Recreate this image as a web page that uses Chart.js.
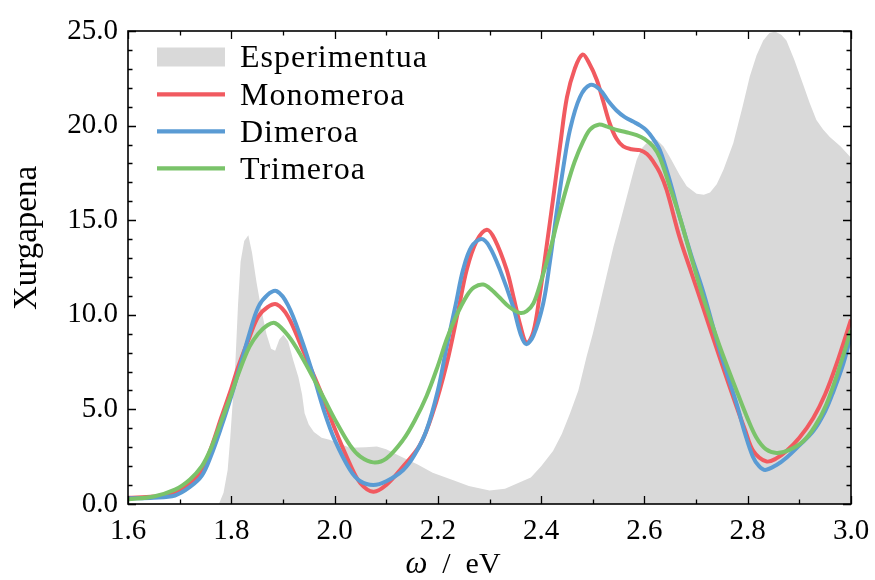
<!DOCTYPE html>
<html>
<head>
<meta charset="utf-8">
<script src="https://cdn.jsdelivr.net/npm/chart.js@4.4.1/dist/chart.umd.min.js"></script>
<style>
  html, body { margin: 0; padding: 0; background: #ffffff; }
  #wrap { width: 875px; height: 580px; position: relative; }
</style>
</head>
<body>
<div id="wrap"><canvas id="spectrum" width="875" height="580"></canvas></div>
<script>
// Photon energy grids (eV) and absorption values for each spectrum
const expOmega = [1.776, 1.785, 1.793, 1.798, 1.803, 1.808, 1.813, 1.818, 1.825, 1.833, 1.840, 1.849, 1.858, 1.868, 1.877, 1.885, 1.893, 1.901, 1.910, 1.920, 1.930, 1.937, 1.942, 1.950, 1.960, 1.975, 1.990, 2.030, 2.060, 2.082, 2.100, 2.127, 2.160, 2.190, 2.230, 2.260, 2.300, 2.330, 2.380, 2.400, 2.423, 2.440, 2.456, 2.472, 2.488, 2.500, 2.514, 2.527, 2.540, 2.553, 2.566, 2.578, 2.585, 2.595, 2.604, 2.614, 2.624, 2.637, 2.650, 2.668, 2.682, 2.701, 2.715, 2.727, 2.740, 2.753, 2.772, 2.790, 2.804, 2.817, 2.830, 2.842, 2.853, 2.865, 2.875, 2.890, 2.907, 2.920, 2.933, 2.946, 2.959, 2.980, 3.000];
const expAbs = [0.0, 0.6, 1.8, 3.5, 5.5, 7.5, 10.5, 12.8, 13.9, 14.2, 13.3, 11.7, 10.3, 9.0, 8.2, 8.1, 8.7, 8.95, 8.6, 7.6, 6.7, 5.8, 4.8, 4.2, 3.8, 3.5, 3.4, 2.97, 3.0, 3.04, 2.9, 2.52, 2.1, 1.65, 1.25, 0.95, 0.72, 0.8, 1.4, 2.0, 2.8, 3.7, 4.8, 6.0, 7.8, 9.0, 10.6, 12.1, 13.6, 14.9, 16.25, 17.5, 18.2, 18.8, 19.07, 19.2, 19.25, 18.9, 18.3, 17.4, 16.8, 16.4, 16.35, 16.46, 16.9, 17.66, 19.07, 21.0, 22.6, 23.7, 24.5, 24.9, 24.97, 24.8, 24.5, 23.5, 22.2, 21.2, 20.3, 19.8, 19.4, 18.9, 18.3];

const monoOmega = [1.600, 1.650, 1.690, 1.720, 1.743, 1.760, 1.781, 1.800, 1.814, 1.835, 1.852, 1.870, 1.888, 1.910, 1.936, 1.955, 1.975, 2.000, 2.030, 2.050, 2.075, 2.100, 2.130, 2.165, 2.190, 2.217, 2.240, 2.256, 2.275, 2.295, 2.310, 2.333, 2.346, 2.360, 2.372, 2.385, 2.397, 2.410, 2.424, 2.437, 2.450, 2.465, 2.480, 2.493, 2.508, 2.520, 2.533, 2.546, 2.559, 2.575, 2.591, 2.605, 2.617, 2.630, 2.643, 2.668, 2.690, 2.714, 2.745, 2.779, 2.795, 2.811, 2.836, 2.855, 2.875, 2.900, 2.927, 2.950, 2.972, 3.000];
const monoAbs = [0.33, 0.40, 0.60, 1.10, 1.80, 2.90, 4.60, 6.10, 7.30, 8.80, 9.90, 10.40, 10.55, 9.90, 8.30, 7.10, 5.80, 4.00, 2.10, 1.10, 0.65, 1.00, 1.90, 3.10, 4.80, 7.40, 10.30, 12.40, 13.90, 14.50, 14.00, 12.40, 11.00, 9.40, 8.50, 9.10, 11.00, 13.50, 16.30, 19.00, 21.50, 23.00, 23.75, 23.30, 22.40, 21.30, 20.10, 19.30, 18.90, 18.75, 18.70, 18.50, 18.10, 17.50, 16.60, 14.10, 12.30, 10.35, 7.80, 5.10, 3.90, 2.80, 2.25, 2.40, 2.80, 3.50, 4.55, 5.80, 7.40, 9.75];

const diOmega = [1.600, 1.650, 1.691, 1.720, 1.743, 1.760, 1.781, 1.800, 1.814, 1.835, 1.852, 1.870, 1.888, 1.910, 1.936, 1.960, 1.981, 2.000, 2.030, 2.050, 2.075, 2.100, 2.133, 2.155, 2.178, 2.200, 2.217, 2.235, 2.249, 2.265, 2.285, 2.300, 2.320, 2.346, 2.360, 2.371, 2.385, 2.404, 2.417, 2.430, 2.443, 2.456, 2.475, 2.495, 2.514, 2.530, 2.546, 2.562, 2.579, 2.592, 2.604, 2.617, 2.630, 2.650, 2.668, 2.690, 2.714, 2.745, 2.779, 2.795, 2.810, 2.822, 2.834, 2.855, 2.875, 2.900, 2.927, 2.950, 2.966, 2.985, 3.000];
const diAbs = [0.30, 0.33, 0.45, 0.90, 1.50, 2.50, 4.10, 5.70, 7.00, 9.00, 10.40, 11.05, 11.25, 10.50, 8.70, 6.70, 4.80, 3.40, 1.80, 1.20, 1.00, 1.20, 1.80, 2.60, 3.90, 6.00, 8.30, 10.60, 12.40, 13.60, 14.00, 13.60, 12.40, 10.40, 9.00, 8.45, 8.90, 10.60, 12.80, 15.40, 17.80, 19.80, 21.50, 22.15, 21.90, 21.30, 20.80, 20.45, 20.20, 20.00, 19.75, 19.30, 18.70, 17.00, 15.20, 13.20, 11.20, 8.20, 5.25, 3.70, 2.50, 2.00, 1.80, 2.05, 2.45, 3.10, 3.85, 4.90, 5.95, 7.40, 8.90];

const triOmega = [1.600, 1.650, 1.691, 1.720, 1.743, 1.760, 1.781, 1.800, 1.814, 1.835, 1.852, 1.870, 1.885, 1.910, 1.936, 1.960, 1.981, 2.000, 2.030, 2.050, 2.075, 2.100, 2.133, 2.155, 2.178, 2.200, 2.217, 2.235, 2.256, 2.270, 2.288, 2.305, 2.320, 2.339, 2.359, 2.372, 2.385, 2.400, 2.417, 2.433, 2.450, 2.465, 2.482, 2.495, 2.511, 2.528, 2.546, 2.565, 2.585, 2.600, 2.617, 2.630, 2.650, 2.668, 2.690, 2.714, 2.745, 2.779, 2.800, 2.817, 2.835, 2.856, 2.880, 2.907, 2.930, 2.952, 2.975, 3.000];
const triAbs = [0.25, 0.40, 0.76, 1.30, 2.00, 2.90, 4.40, 5.80, 6.90, 8.30, 9.00, 9.45, 9.56, 8.90, 7.80, 6.60, 5.50, 4.50, 3.10, 2.50, 2.20, 2.40, 3.40, 4.40, 5.70, 7.30, 8.70, 9.90, 11.00, 11.45, 11.60, 11.30, 10.90, 10.40, 10.10, 10.20, 10.60, 11.80, 13.40, 15.10, 16.80, 18.10, 19.20, 19.80, 20.05, 19.95, 19.77, 19.65, 19.50, 19.30, 18.90, 18.30, 16.70, 15.20, 13.10, 10.90, 8.40, 5.95, 4.50, 3.50, 2.90, 2.70, 2.85, 3.30, 4.10, 5.25, 7.00, 9.20];

const seriesLabels = ['Esperimentua', 'Monomeroa', 'Dimeroa', 'Trimeroa'];
const xTickValues = [1.6, 1.8, 2.0, 2.2, 2.4, 2.6, 2.8, 3.0];
const yTickValues = [0, 5, 10, 15, 20, 25];

const SERIF = '"Liberation Serif", "DejaVu Serif", serif';

function pairs(xs, ys) {
  return xs.map((x, i) => ({ x: x, y: ys[i] }));
}

// Inward tick marks on all four sides plus the surrounding frame
const frameTicks = {
  id: 'frameTicks',
  afterDraw(chart) {
    const { ctx, chartArea: a, scales: { x, y } } = chart;
    ctx.save();
    ctx.strokeStyle = '#000';
    ctx.lineWidth = 1.3;
    const majorLen = 8, minorLen = 4.5;
    const xMin = x.min, xMax = x.max;
    for (let k = 0; k <= Math.round((xMax - xMin) / 0.1); k++) {
      const v = xMin + k * 0.1;
      const px = Math.round(x.getPixelForValue(v)) + 0.5;
      const len = (k % 2 === 0) ? majorLen : minorLen;
      ctx.beginPath();
      ctx.moveTo(px, a.bottom); ctx.lineTo(px, a.bottom - len);
      ctx.moveTo(px, a.top); ctx.lineTo(px, a.top + len);
      ctx.stroke();
    }
    for (let v = y.min; v <= y.max + 1e-9; v += 1) {
      const py = Math.round(y.getPixelForValue(v)) + 0.5;
      const len = (Math.round(v) % 5 === 0) ? majorLen : minorLen;
      ctx.beginPath();
      ctx.moveTo(a.left, py); ctx.lineTo(a.left + len, py);
      ctx.moveTo(a.right, py); ctx.lineTo(a.right - len, py);
      ctx.stroke();
    }
    ctx.lineWidth = 1.6;
    ctx.strokeRect(a.left, a.top, a.right - a.left, a.bottom - a.top);
    ctx.restore();
  }
};

// Axis titles
const axisTitles = {
  id: 'axisTitles',
  afterDraw(chart) {
    const { ctx } = chart;
    ctx.save();
    ctx.fillStyle = '#000';
    ctx.translate(36, 238);
    ctx.rotate(-Math.PI / 2);
    ctx.font = '33px ' + SERIF;
    ctx.textAlign = 'center';
    ctx.textBaseline = 'alphabetic';
    ctx.fillText('Xurgapena', 0, 0);
    ctx.restore();

    ctx.save();
    ctx.fillStyle = '#000';
    ctx.textBaseline = 'alphabetic';
    const italic = 'italic 31px ' + SERIF;
    const upright = '30px ' + SERIF;
    ctx.font = italic;
    const wOmega = ctx.measureText('ω').width;
    ctx.font = upright;
    const rest = '  /  eV';
    const wRest = ctx.measureText(rest).width;
    const cx = 453, base = 573;
    const x0 = cx - (wOmega + wRest) / 2;
    ctx.font = italic;
    ctx.textAlign = 'left';
    ctx.fillText('ω', x0, base);
    ctx.font = upright;
    ctx.fillText(rest, x0 + wOmega, base);
    ctx.restore();
  }
};

// Legend in the upper-left corner of the plot
const cornerLegend = {
  id: 'cornerLegend',
  afterDraw(chart) {
    const { ctx } = chart;
    const ds = chart.data.datasets;
    const x0 = 157, handleW = 68, textX = 240;
    const rowY = [57, 94.3, 131.3, 168.3];
    ctx.save();
    ctx.font = '32px ' + SERIF;
    if ('letterSpacing' in ctx) ctx.letterSpacing = '1px';
    ctx.textBaseline = 'middle';
    ctx.textAlign = 'left';
    ds.forEach((d, r) => {
      const cy = rowY[r];
      if (d.fill) {
        ctx.fillStyle = d.backgroundColor;
        ctx.fillRect(x0, cy - 9.5, handleW, 19);
      } else {
        ctx.strokeStyle = d.borderColor;
        ctx.lineWidth = 4.2;
        ctx.beginPath();
        ctx.moveTo(x0, cy);
        ctx.lineTo(x0 + handleW, cy);
        ctx.stroke();
      }
      ctx.fillStyle = '#000';
      ctx.fillText(d.label, textX, cy + 2);
    });
    ctx.restore();
  }
};

const curveStyle = { fill: false, borderWidth: 4, pointRadius: 0, tension: 0.35 };

new Chart(document.getElementById('spectrum'), {
  type: 'line',
  data: {
    datasets: [
      {
        label: seriesLabels[0],
        data: pairs(expOmega, expAbs),
        fill: 'origin',
        backgroundColor: '#D9D9D9',
        borderColor: '#D9D9D9',
        borderWidth: 0,
        pointRadius: 0,
        tension: 0,
        order: 3
      },
      Object.assign({ label: seriesLabels[1], data: pairs(monoOmega, monoAbs), borderColor: '#F15A60', order: 2 }, curveStyle),
      Object.assign({ label: seriesLabels[2], data: pairs(diOmega, diAbs), borderColor: '#5A9BD4', order: 1 }, curveStyle),
      Object.assign({ label: seriesLabels[3], data: pairs(triOmega, triAbs), borderColor: '#7AC36A', order: 0 }, curveStyle)
    ]
  },
  options: {
    responsive: false,
    animation: false,
    devicePixelRatio: 1,
    layout: { padding: { top: 31, right: 24, left: 0, bottom: 0 } },
    plugins: {
      legend: { display: false },
      tooltip: { enabled: false }
    },
    scales: {
      x: {
        type: 'linear',
        min: 1.6,
        max: 3.0,
        grid: { display: false, drawTicks: false },
        border: { display: false },
        afterBuildTicks(scale) {
          scale.ticks = xTickValues.map(v => ({ value: v }));
        },
        afterFit(scale) {
          scale.height = 76;
          scale.paddingLeft = 0;
          scale.paddingRight = 0;
        },
        ticks: {
          padding: 10,
          color: '#000',
          font: { family: SERIF, size: 29 },
          callback: v => Number(v).toFixed(1)
        }
      },
      y: {
        type: 'linear',
        min: 0,
        max: 25,
        grid: { display: false, drawTicks: false },
        border: { display: false },
        afterBuildTicks(scale) {
          scale.ticks = yTickValues.map(v => ({ value: v }));
        },
        afterFit(scale) {
          scale.width = 128;
          scale.paddingTop = 0;
          scale.paddingBottom = 0;
        },
        ticks: {
          padding: 10,
          color: '#000',
          font: { family: SERIF, size: 29 },
          callback: v => Number(v).toFixed(1)
        }
      }
    }
  },
  plugins: [frameTicks, axisTitles, cornerLegend]
});
</script>
</body>
</html>
